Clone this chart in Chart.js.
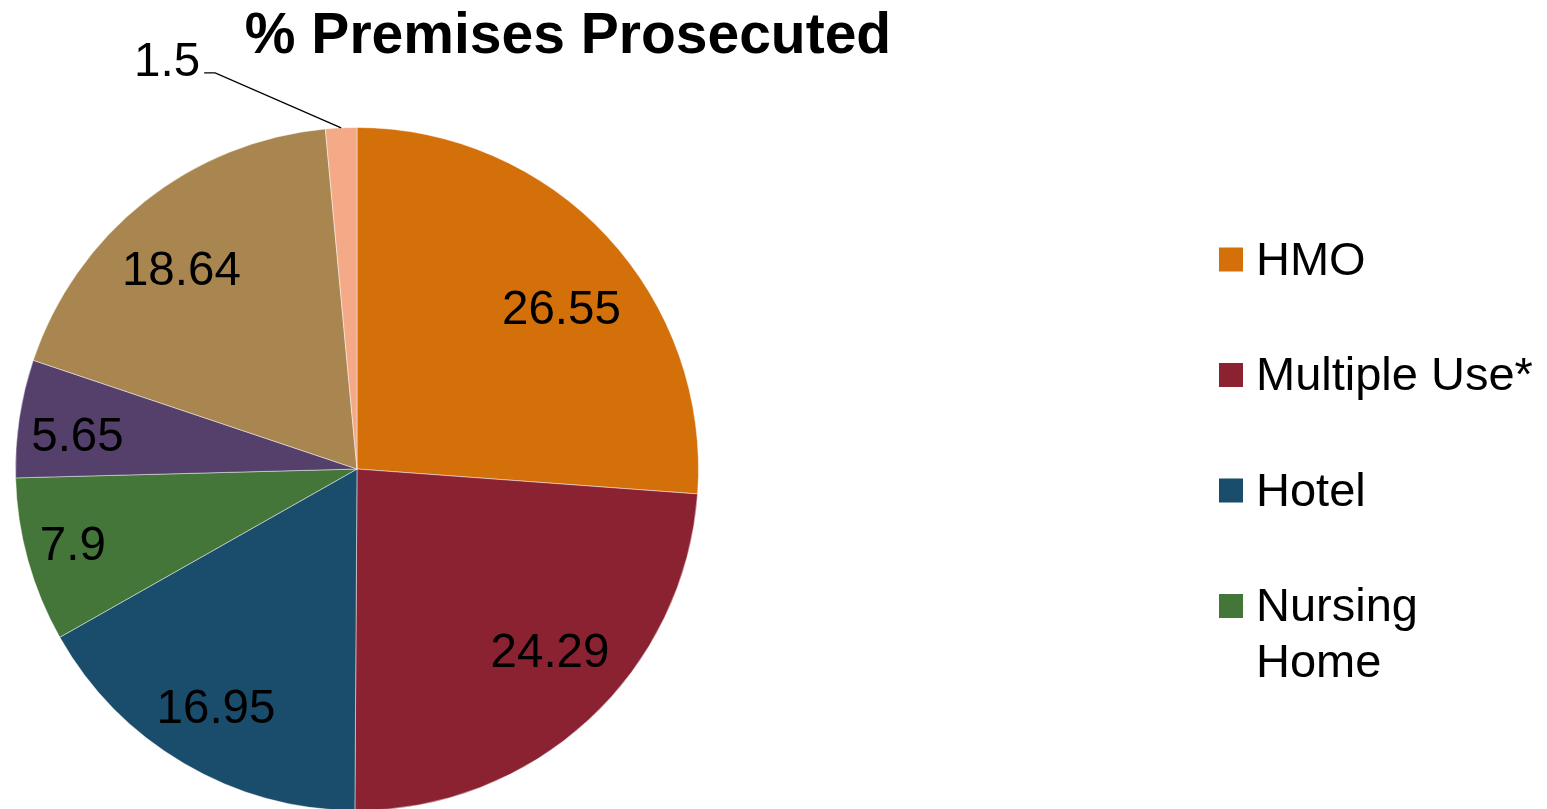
<!DOCTYPE html>
<html>
<head>
<meta charset="utf-8">
<title>% Premises Prosecuted</title>
<script src="https://cdn.jsdelivr.net/npm/chart.js@4/dist/chart.umd.min.js"></script>
<style>
  html, body { margin: 0; padding: 0; background: #ffffff; overflow: hidden; }
  #wrap { position: relative; width: 1547px; height: 811px; }
</style>
</head>
<body>
<div id="wrap"><canvas id="chart" width="1547" height="811"></canvas></div>
<script>
// Share of premises prosecuted, by premises type
const categories = ['HMO', 'Multiple Use*', 'Hotel', 'Nursing Home', 'Category 5', 'Category 6', 'Category 7'];
const values = [26.55, 24.29, 16.95, 7.9, 5.65, 18.64, 1.5];
const sliceColors = ['#D4700A', '#8B2232', '#1A4D6C', '#44763A', '#553F6B', '#A9864F', '#F4AA86'];
const legendCount = 4;
const chartTitle = '% Premises Prosecuted';

// Label placement inside each slice: [fraction of radius, angle shift in degrees]; null = outside with leader line
const labelPlacement = [[0.763, 4.6], [0.775, -4.1], [0.807, 0.35], [0.86, 0.9], [0.825, -1.4], [0.781, -2.8], null];

const FONT = '"Liberation Sans", Arial, Helvetica, sans-serif';

const overlay = {
  id: 'overlay',
  afterDatasetsDraw(chart) {
    const ctx = chart.ctx;
    const meta = chart.getDatasetMeta(0);
    const ds = chart.data.datasets[0];

    // Value labels
    ctx.save();
    ctx.fillStyle = '#000000';
    const fs = 47.5;
    ctx.font = fs + 'px ' + FONT;
    meta.data.forEach((arc, i) => {
      const p = arc.getProps(['x', 'y', 'startAngle', 'endAngle', 'outerRadius'], true);
      const mid = (p.startAngle + p.endAngle) / 2;
      const text = String(ds.data[i]);
      const place = labelPlacement[i];
      if (place) {
        const a = mid + place[1] * Math.PI / 180;
        const r = p.outerRadius * place[0];
        const lx = p.x + r * Math.cos(a);
        const ly = p.y + r * Math.sin(a);
        ctx.textAlign = 'center';
        ctx.textBaseline = 'alphabetic';
        ctx.fillText(text, lx, ly + 0.358 * fs);
      } else {
        const px = p.x + p.outerRadius * Math.cos(mid);
        const py = p.y + p.outerRadius * Math.sin(mid);
        const ex = px - 126, ey = py - 55;
        ctx.strokeStyle = '#000000';
        ctx.lineWidth = 1.3;
        ctx.beginPath();
        ctx.moveTo(px, py);
        ctx.lineTo(ex, ey);
        ctx.lineTo(ex - 11, ey);
        ctx.stroke();
        ctx.textAlign = 'right';
        ctx.textBaseline = 'alphabetic';
        ctx.fillText(text, ex - 15, ey + 3);
      }
    });
    ctx.restore();
  },
  afterDraw(chart) {
    const ctx = chart.ctx;
    const ds = chart.data.datasets[0];
    ctx.save();
    // Title
    ctx.fillStyle = '#000000';
    ctx.font = 'bold 57px ' + FONT;
    ctx.textAlign = 'center';
    ctx.textBaseline = 'alphabetic';
    ctx.fillText(chartTitle, 568, 53);

    // Legend (first entries only)
    const lfs = 47;
    ctx.font = lfs + 'px ' + FONT;
    ctx.textAlign = 'left';
    const boxX = 1219, boxSize = 24, textX = 1256;
    const maxW = chart.width - textX;
    let rowY = 258;
    for (let i = 0; i < legendCount; i++) {
      const label = chart.data.labels[i];
      // wrap words that overflow the right edge
      const words = label.split(' ');
      const lines = [];
      let cur = '';
      words.forEach(w => {
        const t = cur ? cur + ' ' + w : w;
        if (cur && ctx.measureText(t).width > maxW) { lines.push(cur); cur = w; }
        else cur = t;
      });
      lines.push(cur);
      ctx.fillStyle = ds.backgroundColor[i];
      ctx.fillRect(boxX, rowY + 1.5 - boxSize / 2, boxSize, boxSize);
      ctx.fillStyle = '#000000';
      lines.forEach((ln, k) => ctx.fillText(ln, textX, rowY + k * 56 + 0.358 * lfs));
      rowY += 115.5;
    }
    ctx.restore();
  }
};

new Chart(document.getElementById('chart'), {
  type: 'pie',
  data: {
    labels: categories,
    datasets: [{
      data: values,
      backgroundColor: sliceColors,
      borderColor: 'rgba(255,255,255,0.45)',
      borderWidth: 1
    }]
  },
  options: {
    responsive: false,
    animation: false,
    layout: { padding: { left: 15, right: 848, top: 127, bottom: 0 } },
    plugins: {
      legend: { display: false },
      title: { display: false },
      tooltip: { enabled: false }
    }
  },
  plugins: [overlay]
});
</script>
</body>
</html>
